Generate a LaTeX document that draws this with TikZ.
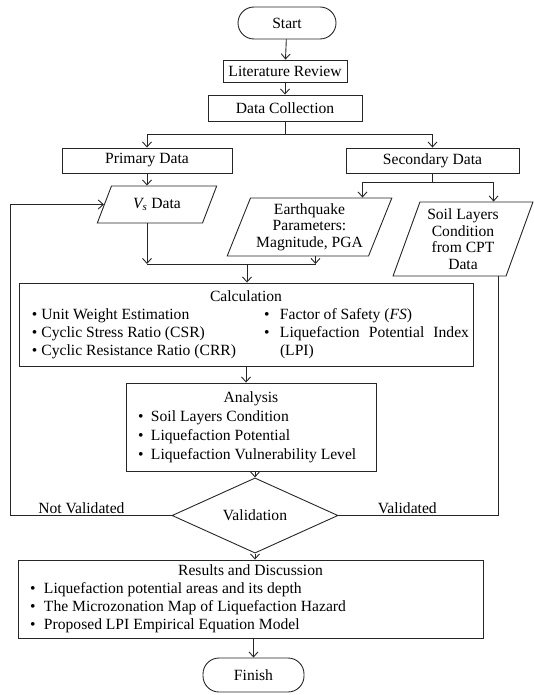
\documentclass[tikz,border=0pt]{standalone}
\usepackage{fontspec}
\setmainfont{Liberation Serif}
\usetikzlibrary{shapes.geometric,arrows.meta}
\newcommand{\bitem}[1][13pt]{\makebox[#1][l]{\textbullet}}

\begin{document}
\begin{tikzpicture}[x=1pt, y=-1pt, line width=0.9pt, draw=black!85,
		every node/.style={font=\fontsize{15.6}{18}\selectfont},
		box/.style={rectangle, draw, inner sep=0pt},
		term/.style={box, rounded corners=16pt},
		io/.style 2 args={trapezium, draw, trapezium left angle=#1, trapezium right angle=#2,
			trapezium stretches=true, inner sep=2pt, align=center,
			font=\fontsize{15.6}{16.6}\selectfont},
		dec/.style={diamond, draw, inner sep=0pt},
		arr/.style={-{Straight Barb[length=5pt,width=9pt]}},
		lbl/.style={inner sep=1.5pt}]
	\useasboundingbox (0,0) rectangle (534,695);

	\node[term, minimum width=98, minimum height=32] (start) at (287,23) {Start};
	\node[box, minimum width=124, minimum height=22] (lit) at (285,71) {Literature Review};
	\node[box, minimum width=154, minimum height=26] (collect) at (285,108) {Data Collection};
	\node[box, minimum width=170, minimum height=25] (primary) at (147,160.5) {Primary Data};
	\node[box, minimum width=173, minimum height=25] (secondary) at (432.5,160.5) {Secondary Data};

	\node[io={64}{116}, minimum width=120, minimum height=37] (vsdata) at (157,204.5) {\textit{V\textsubscript{s}} Data};
	\node[io={67}{113}, minimum width=165, minimum height=58] (quake) at (309.5,227) {Earthquake\\Parameters:\\Magnitude, PGA};
	\node[io={70}{110}, minimum width=140, minimum height=74] (soil) at (463,239) {Soil Layers\\Condition\\from CPT\\Data};

	\node[box, minimum width=454, minimum height=83] (calc) at (246,324.5) {%
		\begin{tabular}{@{\hspace{13pt}}p{232pt}@{}p{205pt}@{\hspace{4pt}}}
			\multicolumn{2}{@{}c@{}}{Calculation}\\
			\bitem[9.5pt]Unit Weight Estimation & \bitem[16pt]Factor of Safety (\textit{FS})\\
			\bitem[9.5pt]Cyclic Stress Ratio (CSR) & \bitem[16pt]\makebox[189pt][s]{Liquefaction Potential Index}\\
			\bitem[9.5pt]Cyclic Resistance Ratio (CRR) & \hspace*{16pt}(LPI)
		\end{tabular}};
	\node[box, minimum width=250, minimum height=88] (analysis) at (251,427) {%
		\renewcommand{\arraystretch}{1.06}%
		\begin{tabular}{@{\hspace{12pt}}p{238pt}@{}}
			\multicolumn{1}{@{}c@{}}{Analysis}\\
			\bitem Soil Layers Condition\\
			\bitem Liquefaction Potential\\
			\bitem Liquefaction Vulnerability Level
		\end{tabular}};
	\node[dec, minimum width=166, minimum height=55] (valid) at (255,515.5) {Validation};
	\node[box, minimum width=465, minimum height=78] (results) at (250.5,599) {%
		\begin{tabular}{@{\hspace{12pt}}p{453pt}@{}}
			\multicolumn{1}{@{}c@{}}{Results and Discussion}\\
			\bitem[14pt]Liquefaction potential areas and its depth\\
			\bitem[14pt]The Microzonation Map of Liquefaction Hazard\\
			\bitem[14pt]Proposed LPI Empirical Equation Model
		\end{tabular}};
	\node[term, minimum width=101, minimum height=34] (finish) at (253.5,675) {Finish};

	% branch points
	\coordinate (split) at (285,134);
	\coordinate (split2) at (432.5,182);
	\coordinate (merge) at (247,264);

	\draw[arr] (start) -- (lit);
	\draw[arr] (lit) -- (collect);
	\draw (collect) -- (split);
	\draw[arr] (split) -| (primary);
	\draw[arr] (split) -| (secondary);
	\draw[arr] (primary.south) -- (primary.south |- vsdata.north);
	\draw (secondary) -- (split2);
	\draw[arr] (split2) -| ([xshift=-30pt]quake.top right corner);
	\draw[arr] (split2) -| ([xshift=-40pt]soil.top right corner);

	\draw[arr] (primary.south |- vsdata.south) -- (primary.south |- merge);
	\draw (primary.south |- merge) -- ([xshift=6pt]quake.south |- merge);
	\draw[arr] ([xshift=6pt]quake.south) -- ([xshift=6pt]quake.south |- merge);
	\draw[arr] (merge) -- (merge |- calc.north);
	\draw[arr] (calc.south) -- (calc.south |- analysis.north);
	\draw[arr] (analysis.south -| valid.north) -- (valid.north);
	\draw[arr] (valid.south) -- (valid.south |- results.north);
	\draw[arr] (results.south -| finish.north) -- (finish.north);

	\draw[arr] (valid.west) -- node[lbl, above, pos=.56] (notval) {Not Validated} ++(-161,0) |- (vsdata.west);
	\draw (valid.east) -- node[lbl, above, pos=.43] (yesval) {Validated} ([xshift=35.5pt]soil.south |- valid.east) -- ([xshift=35.5pt]soil.south);
\end{tikzpicture}
\end{document}
